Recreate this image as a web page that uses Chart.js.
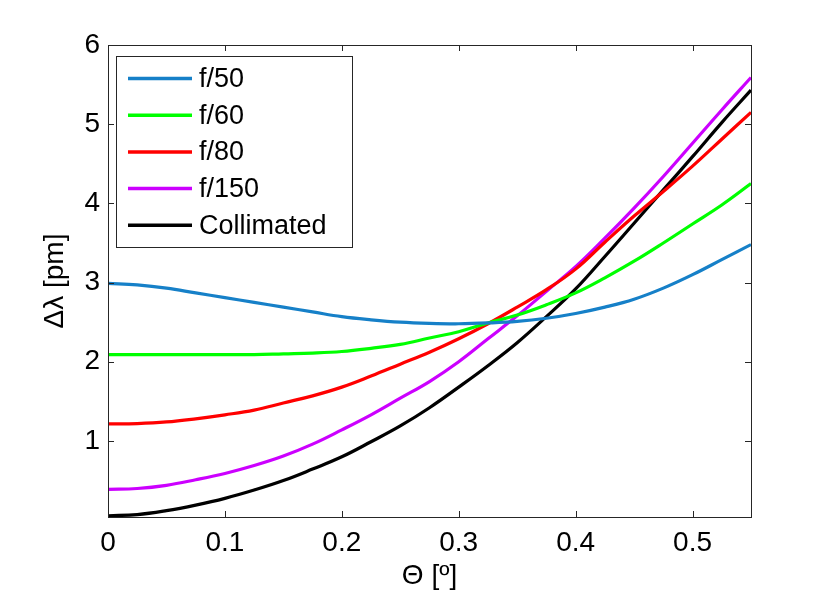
<!DOCTYPE html>
<html>
<head>
<meta charset="utf-8">
<title>Δλ vs Θ</title>
<script src="https://cdn.jsdelivr.net/npm/chart.js@4.4.1/dist/chart.umd.min.js"></script>
<style>
  html, body { margin: 0; padding: 0; background: #fff; }
  #wrap { width: 830px; height: 596px; position: relative; }
</style>
</head>
<body>
<div id="wrap"><canvas id="chart"></canvas></div>
<script>
// values
const THETA = [0, 0.025, 0.05, 0.075, 0.1, 0.125, 0.15, 0.175, 0.2, 0.225, 0.25, 0.275,
               0.3, 0.325, 0.35, 0.375, 0.4, 0.425, 0.45, 0.475, 0.5, 0.525, 0.55];
const F50 = [2.99, 2.97, 2.93, 2.87, 2.81, 2.75, 2.69, 2.63, 2.57, 2.53, 2.50, 2.485,
             2.48, 2.49, 2.51, 2.55, 2.61, 2.69, 2.79, 2.93, 3.10, 3.29, 3.48];
const F60 = [2.09, 2.09, 2.09, 2.09, 2.09, 2.09, 2.10, 2.11, 2.13, 2.17, 2.22, 2.30,
             2.38, 2.49, 2.59, 2.72, 2.87, 3.06, 3.27, 3.50, 3.74, 3.98, 4.25];
const F80 = [1.215, 1.22, 1.24, 1.28, 1.33, 1.39, 1.48, 1.57, 1.68, 1.82, 1.97, 2.12,
             2.29, 2.48, 2.69, 2.91, 3.17, 3.51, 3.84, 4.15, 4.47, 4.81, 5.15];
const F150 = [0.39, 0.40, 0.44, 0.51, 0.59, 0.69, 0.81, 0.96, 1.14, 1.33, 1.54, 1.75,
              2.00, 2.29, 2.58, 2.89, 3.20, 3.56, 3.94, 4.34, 4.76, 5.18, 5.59];
const COLLIMATED = [0.056, 0.07, 0.12, 0.19, 0.275, 0.38, 0.50, 0.645, 0.80, 0.99, 1.19, 1.42,
                    1.68, 1.95, 2.24, 2.57, 2.92, 3.33, 3.75, 4.17, 4.59, 5.02, 5.43];

const SERIES_LABELS = ['f/50', 'f/60', 'f/80', 'f/150', 'Collimated'];
const SERIES_COLORS = ['#1680c8', '#00ff00', '#ff0000', '#cc00ff', '#000000'];
const X_TICKS = [0, 0.1, 0.2, 0.3, 0.4, 0.5];
const X_TICK_LABELS = ['0', '0.1', '0.2', '0.3', '0.4', '0.5'];
const Y_TICKS = [1, 2, 3, 4, 5, 6];
const Y_TICK_LABELS = ['1', '2', '3', '4', '5', '6'];

const FONT = '"Liberation Sans", Arial, Helvetica, sans-serif';

function pts(ys) { return THETA.map((x, i) => ({ x, y: ys[i] })); }

const seriesValues = [F50, F60, F80, F150, COLLIMATED];
const datasets = seriesValues.map((ys, i) => ({
  label: SERIES_LABELS[i],
  data: pts(ys),
  borderColor: SERIES_COLORS[i],
  backgroundColor: SERIES_COLORS[i],
  borderWidth: 3.2,
  pointRadius: 0,
  fill: false,
  tension: 0.4
}));

// MATLAB style box with inward ticks on all four sides
const framePlugin = {
  id: 'frame',
  afterDatasetsDraw(chart) {
    const { ctx, chartArea: a, scales: { x, y } } = chart;
    const len = 6;
    ctx.save();
    ctx.strokeStyle = '#262626';
    ctx.lineWidth = 1;
    ctx.beginPath();
    for (const v of X_TICKS) {
      const px = Math.round(x.getPixelForValue(v)) + 0.5;
      ctx.moveTo(px, a.bottom); ctx.lineTo(px, a.bottom - len);
      ctx.moveTo(px, a.top); ctx.lineTo(px, a.top + len);
    }
    for (const v of Y_TICKS) {
      const py = Math.round(y.getPixelForValue(v)) + 0.5;
      ctx.moveTo(a.left, py); ctx.lineTo(a.left + len, py);
      ctx.moveTo(a.right, py); ctx.lineTo(a.right - len, py);
    }
    ctx.stroke();
    ctx.strokeRect(Math.round(a.left) + 0.5, Math.round(a.top) + 0.5,
                   Math.round(a.right - a.left), Math.round(a.bottom - a.top));
    ctx.restore();
  }
};

// boxed legend in the upper-left corner of the axes
const boxLegendPlugin = {
  id: 'boxLegend',
  afterDatasetsDraw(chart) {
    const { ctx, chartArea: a } = chart;
    const left = a.left + 8, top = a.top + 11, w = 236, h = 191;
    const rowH = 36.7;
    ctx.save();
    ctx.fillStyle = '#fff';
    ctx.fillRect(left, top, w, h);
    ctx.strokeStyle = '#262626';
    ctx.lineWidth = 1;
    ctx.strokeRect(Math.round(left) + 0.5, Math.round(top) + 0.5, w, h);
    ctx.font = '27px ' + FONT;
    ctx.textBaseline = 'middle';
    ctx.textAlign = 'left';
    chart.data.datasets.forEach((ds, i) => {
      const cy = top + 22.5 + i * rowH;
      ctx.strokeStyle = ds.borderColor;
      ctx.lineWidth = 3.5;
      ctx.beginPath();
      ctx.moveTo(left + 12, cy);
      ctx.lineTo(left + 76, cy);
      ctx.stroke();
      ctx.fillStyle = '#000';
      ctx.fillText(ds.label, left + 83, cy + 1);
    });
    ctx.restore();
  }
};

new Chart(document.getElementById('chart'), {
  type: 'line',
  data: { datasets },
  options: {
    responsive: true,
    maintainAspectRatio: false,
    animation: false,
    events: [],
    layout: { padding: { top: 45, right: 79, left: 0, bottom: 0 } },
    plugins: { legend: { display: false }, tooltip: { enabled: false } },
    scales: {
      x: {
        type: 'linear',
        min: 0,
        max: 0.55,
        afterFit: s => { s.height = 79; },
        afterBuildTicks: s => { s.ticks = X_TICKS.map(v => ({ value: v })); },
        grid: { display: false, drawTicks: false },
        border: { display: false },
        ticks: {
          padding: 9,
          color: '#000',
          font: { family: FONT, size: 28 },
          maxRotation: 0,
          callback: v => X_TICK_LABELS[X_TICKS.indexOf(v)] ?? ''
        },
        title: {
          display: true,
          text: 'Θ [º]',
          color: '#000',
          font: { family: FONT, size: 28 },
          padding: { top: 0, bottom: 3 }
        }
      },
      y: {
        type: 'linear',
        min: 0.04,
        max: 6,
        afterFit: s => { s.width = 108; },
        afterBuildTicks: s => { s.ticks = Y_TICKS.map(v => ({ value: v })); },
        grid: { display: false, drawTicks: false },
        border: { display: false },
        ticks: {
          padding: 8,
          color: '#000',
          font: { family: FONT, size: 28 },
          callback: v => Y_TICK_LABELS[Y_TICKS.indexOf(v)] ?? ''
        },
        title: {
          display: true,
          text: 'Δλ [pm]',
          color: '#000',
          font: { family: FONT, size: 28 },
          padding: { top: 38, bottom: 0 }
        }
      }
    }
  },
  plugins: [boxLegendPlugin, framePlugin]
});
</script>
</body>
</html>
